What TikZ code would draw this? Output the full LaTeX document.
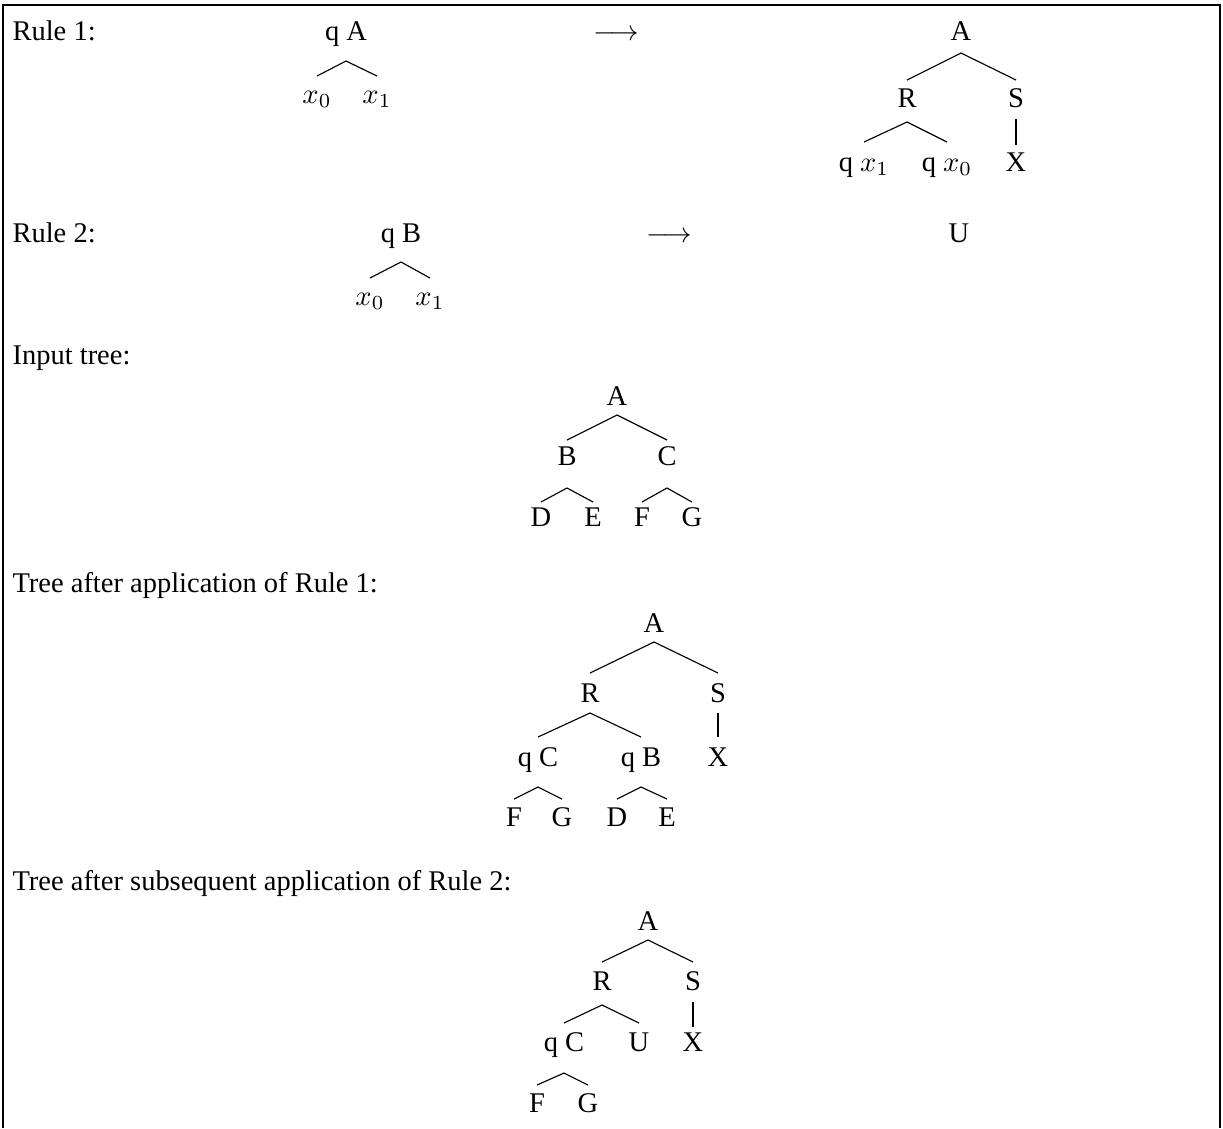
\documentclass[tikz,border=0pt]{standalone}
\usepackage{fontspec}
\setmainfont{Liberation Serif}
\usetikzlibrary{calc}
\tikzset{
    lbl/.style={anchor=base west, inner sep=0pt},
    tn/.style={anchor=base, inner sep=0pt},
    branch/.style={line width=0.4pt}
}
\begin{document}
\begin{tikzpicture}[x=0.351pt, y=-0.351pt]
        \useasboundingbox (0,0) rectangle (1223,1128);
        \draw[line width=0.7pt] (3,1128) -- (3,5) -- (1220,5) -- (1220,1128);
        % Rule 1
        \node[lbl] (lruleA) at (12,40) {Rule 1:};
        \node[tn] (qA) at (346,40) {q A};
        \node[tn] (ax0) at (317,103) {$x_0$};
        \node[tn] (ax1) at (377,103) {$x_1$};
        \draw[branch] ($(ax0.base)+(0,-27)$) -- ($(qA.base)+(0,21)$) -- ($(ax1.base)+(0,-27)$);
        \node[tn] (arrA) at (616,40) {$\longrightarrow$};
        \node[tn] (aA) at (961,40) {A};
        \node[tn] (aR) at (907,107) {R};
        \node[tn] (aS) at (1016,107) {S};
        \node[tn] (aqx1) at (864,171) {q $x_1$};
        \node[tn] (aqx0) at (947,171) {q $x_0$};
        \node[tn] (aX) at (1016,171) {X};
        \draw[branch] ($(aR.base)+(0,-27)$) -- ($(aA.base)+(0,13)$) -- ($(aS.base)+(0,-27)$);
        \draw[branch] ($(aqx1.base)+(0,-29)$) -- ($(aR.base)+(0,15)$) -- ($(aqx0.base)+(0,-29)$);
        \draw[branch] ($(aS.base)+(0,12)$) -- ($(aX.base)+(0,-26)$);
        % Rule 2
        \node[lbl] (lruleB) at (12,242) {Rule 2:};
        \node[tn] (qB) at (401,242) {q B};
        \node[tn] (bx0) at (370,305) {$x_0$};
        \node[tn] (bx1) at (430,305) {$x_1$};
        \draw[branch] ($(bx0.base)+(0,-27)$) -- ($(qB.base)+(0,20)$) -- ($(bx1.base)+(0,-27)$);
        \node[tn] (arrB) at (669,242) {$\longrightarrow$};
        \node[tn] (bU) at (959,242) {U};
        % input tree
        \node[lbl] (linput) at (12,364) {Input tree:};
        \node[tn] (iA) at (617,405) {A};
        \node[tn] (iB) at (567,465) {B};
        \node[tn] (iC) at (667,465) {C};
        \foreach \n/\x in {D/541,E/593,F/642,G/692}
            \node[tn] (i\n) at (\x,526) {\n};
        \draw[branch] ($(iB.base)+(0,-25)$) -- ($(iA.base)+(0,10)$) -- ($(iC.base)+(0,-25)$);
        \draw[branch] ($(iD.base)+(0,-24)$) -- ($(iB.base)+(0,23)$) -- ($(iE.base)+(0,-24)$);
        \draw[branch] ($(iF.base)+(0,-24)$) -- ($(iC.base)+(0,23)$) -- ($(iG.base)+(0,-24)$);
        % after rule 1
        \node[lbl] (lafterA) at (12,592) {Tree after application of Rule 1:};
        \node[tn] (sA) at (654,632) {A};
        \node[tn] (sR) at (590,702) {R};
        \node[tn] (sS) at (718,702) {S};
        \node[tn] (sqC) at (538,766) {q C};
        \node[tn] (sqB) at (641,766) {q B};
        \node[tn] (sX) at (718,766) {X};
        \foreach \n/\x in {F/514,G/562,D/617,E/667}
            \node[tn] (s\n) at (\x,826) {\n};
        \draw[branch] ($(sR.base)+(0,-29)$) -- ($(sA.base)+(0,10)$) -- ($(sS.base)+(0,-29)$);
        \draw[branch] ($(sqC.base)+(0,-29)$) -- ($(sR.base)+(0,11)$) -- ($(sqB.base)+(0,-29)$);
        \draw[branch] ($(sS.base)+(0,11)$) -- ($(sX.base)+(0,-29)$);
        \draw[branch] ($(sF.base)+(0,-27)$) -- ($(sqC.base)+(0,21)$) -- ($(sG.base)+(0,-27)$);
        \draw[branch] ($(sD.base)+(0,-27)$) -- ($(sqB.base)+(0,21)$) -- ($(sE.base)+(0,-27)$);
        % after rule 2
        \node[lbl] (lafterB) at (12,890) {Tree after subsequent application of Rule 2:};
        \node[tn] (tA) at (648,930) {A};
        \node[tn] (tR) at (602,990) {R};
        \node[tn] (tS) at (693,990) {S};
        \node[tn] (tqC) at (564,1051) {q C};
        \node[tn] (tU) at (639,1051) {U};
        \node[tn] (tX) at (693,1051) {X};
        \node[tn] (tF) at (537,1112) {F};
        \node[tn] (tG) at (588,1112) {G};
        \draw[branch] ($(tR.base)+(0,-28)$) -- ($(tA.base)+(0,10)$) -- ($(tS.base)+(0,-28)$);
        \draw[branch] ($(tqC.base)+(0,-28)$) -- ($(tR.base)+(0,15)$) -- ($(tU.base)+(0,-28)$);
        \draw[branch] ($(tS.base)+(0,12)$) -- ($(tX.base)+(0,-24)$);
        \draw[branch] ($(tF.base)+(0,-27)$) -- ($(tqC.base)+(0,22)$) -- ($(tG.base)+(0,-27)$);
    \end{tikzpicture}
\end{document}
